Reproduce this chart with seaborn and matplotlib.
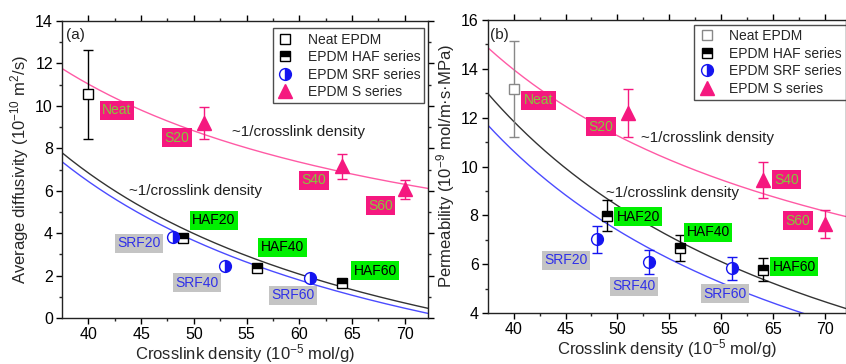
import numpy as np
import pandas as pd
import matplotlib
matplotlib.use("Agg")
import matplotlib.pyplot as plt
import seaborn as sns

sns.set_theme(style="ticks")
plt.rcParams["font.family"] = ["Liberation Sans", "DejaVu Sans"]
plt.rcParams["mathtext.fontset"] = "custom"
plt.rcParams["mathtext.rm"] = "Liberation Sans"
plt.rcParams["mathtext.default"] = "regular"

# ---- crosslink density of each sample (10^-5 mol/g) ----
neat_x = [40]
haf_x = [49, 56, 64]
srf_x = [48, 53, 61]
s_x = [51, 64, 70]

# ---- (a) average diffusivity (10^-10 m^2/s) ----
diff_neat = [10.55]
diff_neat_err = [2.1]
diff_haf = [3.75, 2.34, 1.66]
diff_haf_err = [0.1, 0.1, 0.1]
diff_srf = [3.8, 2.45, 1.9]
diff_srf_err = [0.1, 0.1, 0.1]
diff_s = [9.2, 7.15, 6.06]
diff_s_err = [0.75, 0.6, 0.45]

# ---- (b) permeability (10^-9 mol/m.s.MPa) ----
perm_neat = [13.18]
perm_neat_err = [1.98]
perm_haf = [7.98, 6.67, 5.78]
perm_haf_err = [0.63, 0.53, 0.46]
perm_srf = [7.02, 6.09, 5.83]
perm_srf_err = [0.55, 0.51, 0.47]
perm_s = [12.19, 9.44, 7.64]
perm_s_err = [0.97, 0.74, 0.58]

# ---- fitted y = A / x + B curves ----
diff_fit_s = (441.0, 0.0)
diff_fit_haf = (572.3, -7.47)
diff_fit_srf = (557.9, -7.51)
perm_fit_s = (541.6, 0.43)
perm_fit_haf = (689.5, -5.39)
perm_fit_srf = (646.2, -5.53)

# ---- sample labels (text, x, y) ----
diff_labels_s = [("Neat", 42.7, 9.8), ("S20", 48.4, 8.5), ("S40", 61.4, 6.5), ("S60", 67.7, 5.3)]
diff_labels_haf = [("HAF20", 51.9, 4.6), ("HAF40", 58.4, 3.34), ("HAF60", 67.2, 2.23)]
diff_labels_srf = [("SRF20", 44.8, 3.53), ("SRF40", 50.3, 1.66), ("SRF60", 59.4, 1.08)]
perm_labels_s = [("Neat", 42.4, 12.72), ("S20", 48.4, 11.63), ("S40", 66.3, 9.45), ("S60", 67.4, 7.78)]
perm_labels_haf = [("HAF20", 52.0, 7.95), ("HAF40", 58.75, 7.3), ("HAF60", 67.05, 5.9)]
perm_labels_srf = [("SRF20", 45.07, 6.17), ("SRF40", 51.6, 5.1), ("SRF60", 60.4, 4.78)]

PINK = "#F5187F"
PINK_LINE = "#FF5AA5"
PINK_TXT = "#86C83A"
GREEN_BOX = "#00F000"
GRAY_BOX = "#C4C4C4"
BLUE = "#1515F0"
BLUE_LINE = "#4B4BFF"
BLUE_TXT = "#3030E8"
DARK_LINE = "#333333"

fig = plt.figure(figsize=(8.46, 3.64), dpi=100)
ax_a = fig.add_axes([62 / 846, 46 / 364, 366 / 846, 297 / 364])
ax_b = fig.add_axes([487.7 / 846, 51 / 364, 358 / 846, 293 / 364])


def fit_curve(ax, coeffs, xlim, color):
    xs = np.linspace(xlim[0], xlim[1], 200)
    a, b = coeffs
    df = pd.DataFrame({"x": xs, "y": a / xs + b})
    sns.lineplot(data=df, x="x", y="y", ax=ax, color=color, lw=1.0,
                 errorbar=None, legend=False, zorder=2)


def points(ax, xs, ys, errs, label, color, ecolor, **mk):
    ax.errorbar(xs, ys, yerr=errs, fmt="none", ecolor=ecolor, elinewidth=1.0,
                capsize=3.5, capthick=1.0, zorder=3)
    df = pd.DataFrame({"x": xs, "y": ys})
    sns.lineplot(data=df, x="x", y="y", ax=ax, color=color, linestyle="",
                 errorbar=None, label=label, zorder=4, **mk)


def tag(ax, items, fc, tc):
    for s, x, y in items:
        ax.text(x, y, s, ha="center", va="center", fontsize=10, color=tc,
                zorder=5, bbox=dict(boxstyle="square,pad=0.18", fc=fc, ec="none"))


def draw_panel(ax, xlim, ylim, yticks, neat, haf, srf, s, fits, labels,
               neat_edge, note, curve_notes, ylabel, legend_anchor):
    for coeffs, col in zip(fits, [PINK_LINE, DARK_LINE, BLUE_LINE]):
        fit_curve(ax, coeffs, xlim, col)

    points(ax, neat_x, neat[0], neat[1], "Neat EPDM", "white", neat_edge,
           marker="s", markersize=7.5, markerfacecolor="white",
           markeredgecolor=neat_edge, markeredgewidth=1.0)
    points(ax, haf_x, haf[0], haf[1], "EPDM HAF series", "black", "black",
           marker="s", markersize=7.5, fillstyle="top", markerfacecoloralt="white",
           markeredgecolor="black", markeredgewidth=1.0)
    points(ax, srf_x, srf[0], srf[1], "EPDM SRF series", BLUE, BLUE,
           marker="o", markersize=8.5, fillstyle="right", markerfacecoloralt="white",
           markeredgecolor=BLUE, markeredgewidth=1.0)
    points(ax, s_x, s[0], s[1], "EPDM S series", PINK, PINK,
           marker="^", markersize=10, markeredgecolor=PINK, markeredgewidth=1.0)

    tag(ax, labels[0], PINK, PINK_TXT)
    tag(ax, labels[1], GREEN_BOX, "black")
    tag(ax, labels[2], GRAY_BOX, BLUE_TXT)

    for x, y in curve_notes:
        ax.text(x, y, "~1/crosslink density", ha="center", va="center",
                fontsize=11, color="#222222", zorder=5)
    ax.text(note[1], note[2], note[0], ha="left", va="center", fontsize=11,
            color="#222222")

    ax.set_xlim(*xlim)
    ax.set_ylim(*ylim)
    ax.set_xticks([40, 45, 50, 55, 60, 65, 70])
    ax.set_xticks(np.arange(42.5, 72.5, 5), minor=True)
    ax.set_yticks(yticks)
    ax.set_yticks(np.arange(ylim[0] + 1, ylim[1], 2), minor=True)
    ax.tick_params(axis="both", which="major", direction="out", length=4.5,
                   width=1.0, labelsize=11.5, pad=2, colors="black")
    ax.tick_params(axis="both", which="minor", direction="out", length=2.5,
                   width=1.0)
    ax.tick_params(top=True, right=True, which="both")
    for side in ["top", "right"]:
        ax.spines[side].set_visible(True)
    for sp in ax.spines.values():
        sp.set_linewidth(1.0)
        sp.set_color("#222222")
    ax.set_xlabel(r"Crosslink density (10$^{-5}$ mol/g)", fontsize=12, labelpad=0)
    ax.set_ylabel(ylabel, fontsize=12, labelpad=3)

    leg = ax.legend(loc="upper right", bbox_to_anchor=legend_anchor,
                    frameon=True, fancybox=False, fontsize=10,
                    handlelength=1.2, handletextpad=1.0, labelspacing=0.25,
                    borderpad=0.3, borderaxespad=0)
    leg.get_frame().set_edgecolor("#222222")
    leg.get_frame().set_linewidth(1.0)


draw_panel(ax_a, (37.5, 72.2), (0, 14), [0, 2, 4, 6, 8, 10, 12, 14],
           (diff_neat, diff_neat_err), (diff_haf, diff_haf_err),
           (diff_srf, diff_srf_err), (diff_s, diff_s_err),
           [diff_fit_s, diff_fit_haf, diff_fit_srf],
           [diff_labels_s, diff_labels_haf, diff_labels_srf],
           "black", ("(a)", 37.85, 13.35), [(59.9, 8.78), (50.2, 6.0)],
           r"Average diffusivity (10$^{-10}$ m$^{2}$/s)", (0.99, 0.975))

draw_panel(ax_b, (37.5, 72.0), (4, 16), [4, 6, 8, 10, 12, 14, 16],
           (perm_neat, perm_neat_err), (perm_haf, perm_haf_err),
           (perm_srf, perm_srf_err), (perm_s, perm_s_err),
           [perm_fit_s, perm_fit_haf, perm_fit_srf],
           [perm_labels_s, perm_labels_haf, perm_labels_srf],
           "#888888", ("(b)", 37.75, 15.4), [(58.7, 11.16), (55.3, 8.9)],
           r"Permeability (10$^{-9}$ mol/m·s·MPa)", (1.0, 0.983))

fig.savefig("out.png", dpi=100)
